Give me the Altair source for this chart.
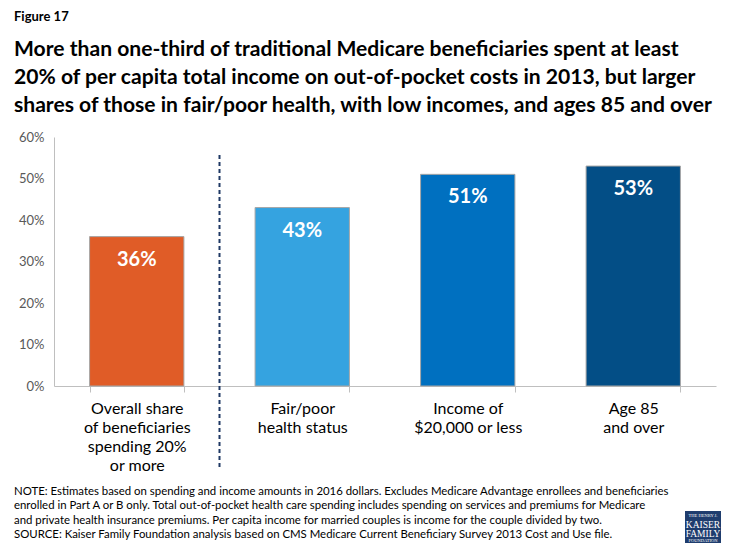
import altair as alt
import pandas as pd

categories = ["Overall share|of beneficiaries|spending 20%|or more",
              "Fair/poor|health status",
              "Income of|$20,000 or less",
              "Age 85|and over"]
values = [0.36, 0.43, 0.51, 0.53]
colors = ["#E05C27", "#35A3E0", "#0070C0", "#034E86"]

title_lines = [
    "More than one-third of traditional Medicare beneficiaries spent at least",
    "20% of per capita total income on out-of-pocket costs in 2013, but larger",
    "shares of those in fair/poor health, with low incomes, and ages 85 and over",
]
note_lines = [
    "NOTE: Estimates based on spending and income amounts in 2016 dollars. Excludes Medicare Advantage enrollees and beneficiaries",
    "enrolled in Part A or B only. Total out-of-pocket health care spending includes spending on services and premiums for Medicare",
    "and private health insurance premiums. Per capita income for married couples is income for the couple divided by two.",
    "SOURCE: Kaiser Family Foundation analysis based on CMS Medicare Current Beneficiary Survey 2013 Cost and Use file.",
]
logo_lines = ["THE HENRY J.", "KAISER", "FAMILY", "FOUNDATION"]

W, H = 662, 249
FONT = "Lato"

df = pd.DataFrame({"cat": categories, "val": values, "color": colors,
                   "label": [f"{round(v*100)}%" for v in values]})

x = alt.X("cat:N", sort=categories, title=None,
          scale=alt.Scale(paddingInner=0.43, paddingOuter=0.215),
          axis=alt.Axis(labelExpr="split(datum.label, '|')", labelAngle=0,
                        labelFontSize=16, labelColor="#000000", labelFont=FONT,
                        labelLineHeight=19, labelPadding=8, labelBaseline="top",
                        tickBand="extent", tickColor="#BFBFBF", tickSize=6,
                        domainColor="#BFBFBF", domainWidth=1))
y = alt.Y("val:Q", title=None,
          scale=alt.Scale(domain=[0, 0.6], nice=False),
          axis=alt.Axis(format=".0%", values=[0, 0.1, 0.2, 0.3, 0.4, 0.5, 0.6],
                        labelFontSize=13, labelColor="#595959", labelFont=FONT,
                        ticks=False, labelPadding=10, grid=False,
                        domainColor="#BFBFBF"))

bars = alt.Chart(df).mark_bar(stroke="#A6A6A6", strokeWidth=1).encode(
    x=x, y=y, color=alt.Color("color:N", scale=None))

labels = alt.Chart(df).mark_text(color="white", fontSize=20, fontWeight="bold",
                                 font=FONT, baseline="middle", dy=23).encode(
    x=alt.X("cat:N", sort=categories), y=alt.Y("val:Q"), text="label:N")

one = pd.DataFrame({"a": [0]})

divider = alt.Chart(one).mark_rule(
    color="#1F3864", strokeDash=[4, 3], strokeWidth=2).encode(
    x=alt.value(W / 4), y=alt.value(18), y2=alt.value(333))


def text_line(txt, xpos, ypos, **kw):
    return alt.Chart(pd.DataFrame({"t": [txt]})).mark_text(
        baseline="middle", **kw).encode(
        x=alt.value(xpos), y=alt.value(ypos), text="t:N")


layers = [bars, labels, divider,
          text_line("Figure 17", -40, -120, align="left", fontSize=13,
                    fontWeight="bold", font=FONT, color="#000000")]

for i, t in enumerate(title_lines):
    layers.append(text_line(t, -40, -87 + 28 * i, align="left", fontSize=21.1,
                            fontWeight="bold", font=FONT, color="#000000"))

for i, t in enumerate(note_lines):
    layers.append(text_line(t, -40, 355 + 14.4 * i, align="left", fontSize=11.4,
                            font=FONT, color="#000000"))

layers.append(alt.Chart(one).mark_rect(color="#1F3D6E").encode(
    x=alt.value(631), x2=alt.value(667), y=alt.value(374), y2=alt.value(408)))

logo_sizes = [4.5, 9.5, 9.5, 4.5]
logo_y = [379, 387.5, 396.5, 404]
for t, s, yy in zip(logo_lines, logo_sizes, logo_y):
    layers.append(text_line(t, 649, yy, align="center", fontSize=s,
                            font="Liberation Serif", color="white"))

chart = alt.layer(*layers).properties(
    width=W, height=H,
    padding={"left": 46, "top": 129, "right": 11, "bottom": 157},
    autosize=alt.AutoSizeParams(type="none"),
).configure_view(stroke=None)

chart.save("out.html", embed_options={"renderer": "svg", "actions": False})
